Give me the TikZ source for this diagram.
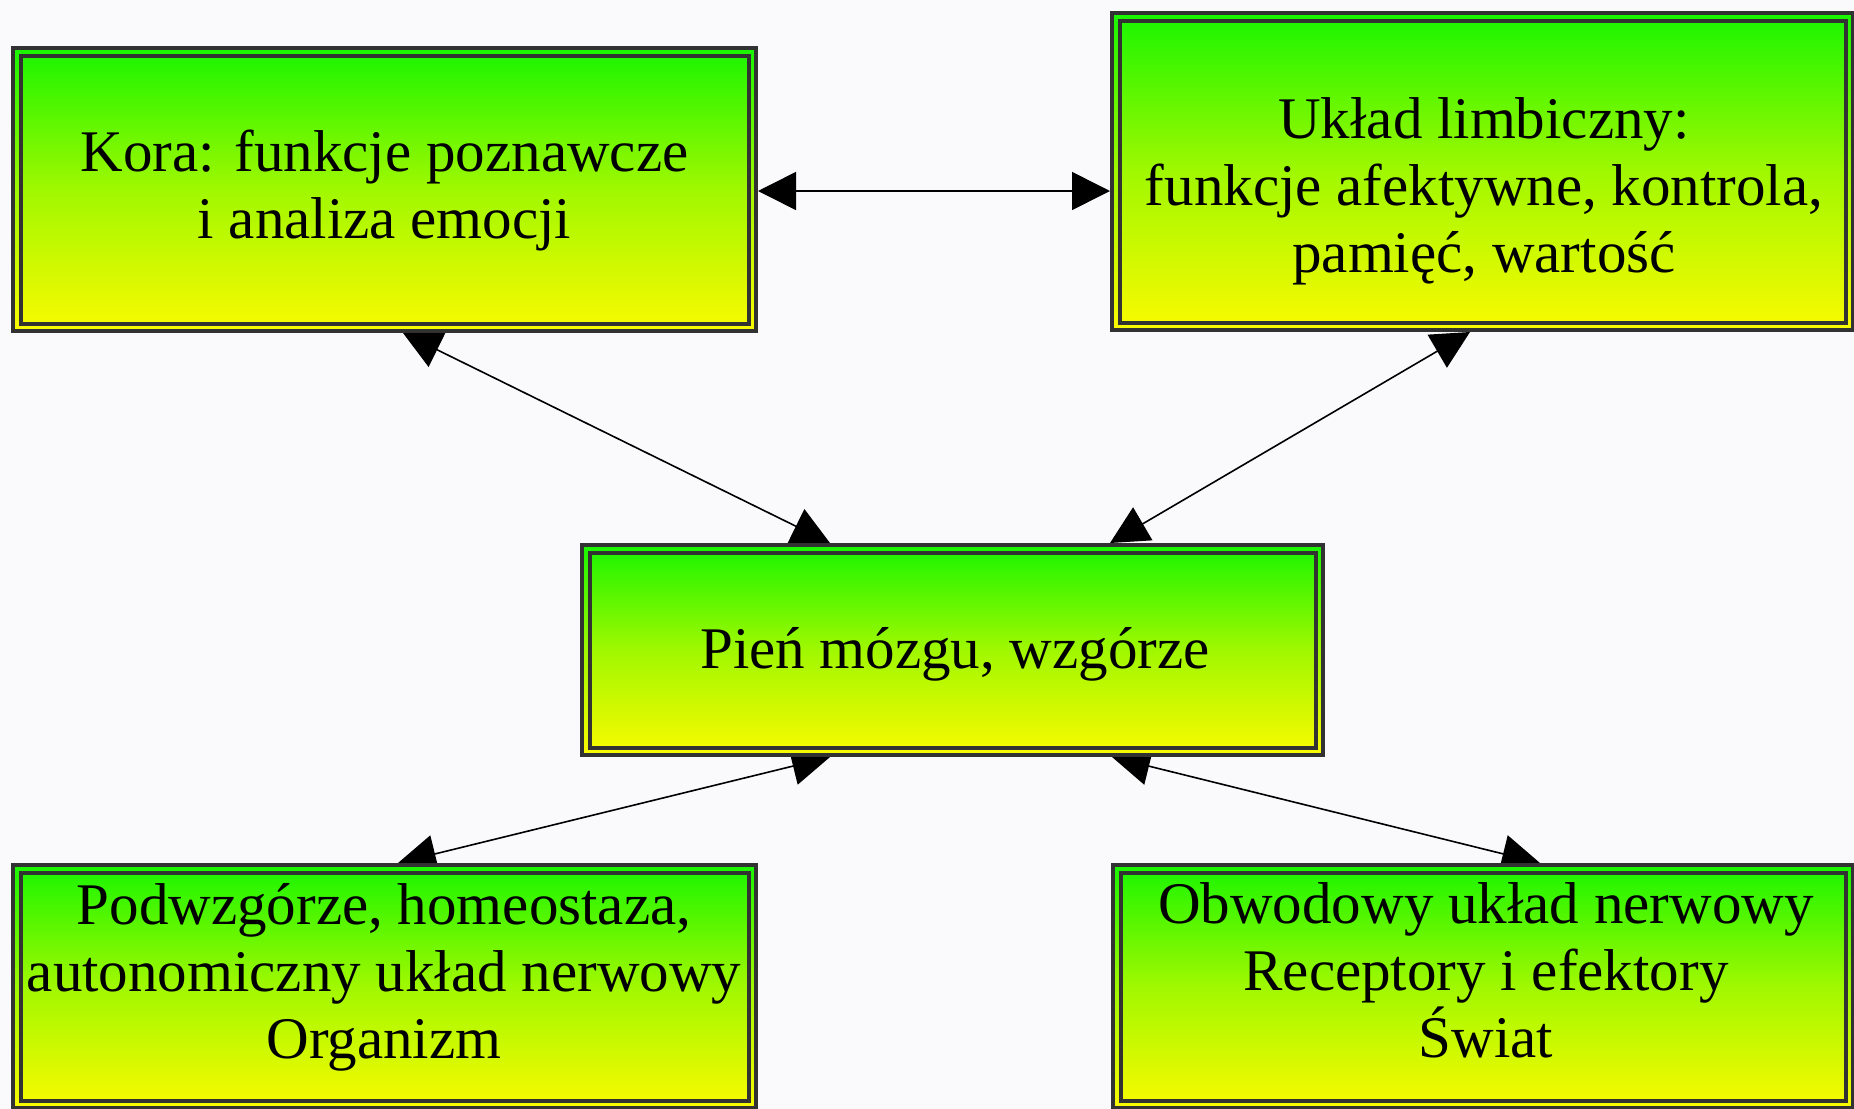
\documentclass[tikz,border=0pt]{standalone}
\usepackage{fontspec}
\setmainfont{Liberation Serif}
\usetikzlibrary{arrows.meta,calc}
\pgfdeclarelayer{bg}
\pgfdeclarelayer{links}
\pgfsetlayers{bg,links,main}
\definecolor{bgc}{RGB}{250,249,252}
\definecolor{edgec}{RGB}{50,50,50}
\definecolor{topg}{RGB}{25,245,0}
\definecolor{midg}{RGB}{160,248,0}
\definecolor{boty}{RGB}{250,250,0}
\tikzset{
  box/.style={rectangle, draw=edgec, line width=2pt, top color=topg, bottom color=boty,
    middle color=midg, inner sep=0pt,
    path picture={\draw[edgec, line width=2pt]
      ([shift={(3.75pt,-3.75pt)}]path picture bounding box.north west) rectangle
      ([shift={(-3.75pt,3.75pt)}]path picture bounding box.south east);}},
  boxtext/.style={align=center, font=\fontsize{29.5}{33.5}\selectfont, inner sep=0pt},
  link/.style={line width=0.8pt, draw=black,
    {Triangle[length=19pt,width=19pt]}-{Triangle[length=19pt,width=19pt]}}
}
\begin{document}
\begin{tikzpicture}[x=0.5pt,y=-0.5pt]
\useasboundingbox (0,0) rectangle (1854,1109);
\begin{pgfonlayer}{bg}
\fill[bgc] (0,0) rectangle (1854,1109);
\end{pgfonlayer}

\node[box, minimum width=371.5pt, minimum height=141.5pt] (kora) at (384.5,189.5) {};
\node[box, minimum width=370.5pt, minimum height=158.5pt] (limb) at (1482.5,171.5) {};
\node[box, minimum width=370.5pt, minimum height=105pt] (pien) at (952.5,650) {};
\node[box, minimum width=371.5pt, minimum height=121.5pt] (podw) at (384.5,986.5) {};
\node[box, minimum width=370pt, minimum height=121.5pt] (obw) at (1483,986.5) {};

\node[boxtext] (kora-t) at (384.5,191) {Kora: funkcje poznawcze\\i analiza emocji};
\node[boxtext] (limb-t) at (1484,191) {Układ limbiczny:\\funkcje afektywne, kontrola,\\pamięć, wartość};
\node[boxtext] (pien-t) at (955,654) {Pień mózgu, wzgórze};
\node[boxtext] (podw-t) at (384,977) {Podwzgórze, homeostaza,\\autonomiczny układ nerwowy\\Organizm};
\node[boxtext] (obw-t) at (1486,970) {Obwodowy układ nerwowy\\Receptory i efektory\\Świat};

\coordinate (h1) at ($(kora.east)+(0,1.5)$);
\begin{pgfonlayer}{links}
\draw[link] (h1) -- (h1 -| limb.west);
\draw[link] ($(kora.south)+(18.5,0)$) -- ($(pien.north)+(-122.5,0)$);
\draw[link] ($(limb.south)+(-12.5,0)$) -- ($(pien.north)+(157.5,0)$);
\draw[link] ($(pien.south)+(-122.5,0)$) -- ($(podw.north)+(13.5,0)$);
\draw[link] ($(pien.south)+(159.5,0)$) -- ($(obw.north)+(57,0)$);
\end{pgfonlayer}
\end{tikzpicture}
\end{document}
